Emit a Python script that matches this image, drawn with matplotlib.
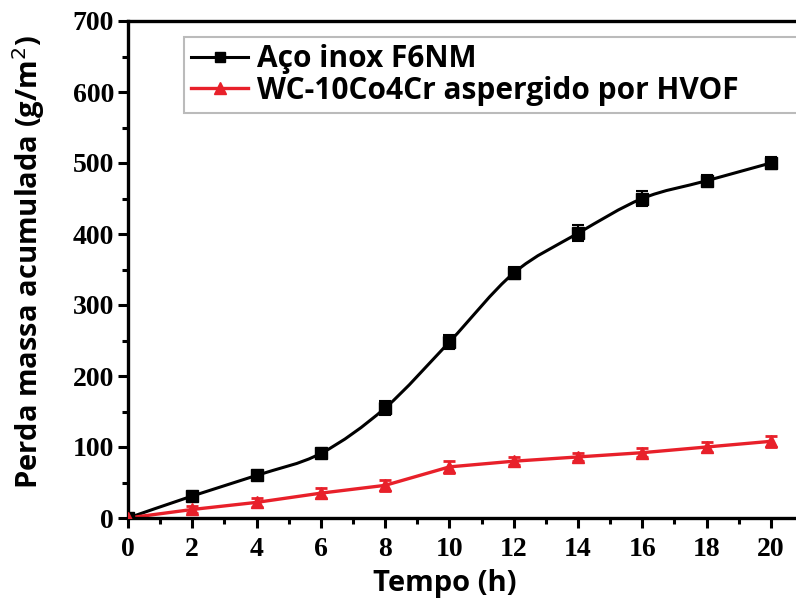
import numpy as np
import matplotlib
matplotlib.use("Agg")
import matplotlib.pyplot as plt
from matplotlib.path import Path
from matplotlib.patches import PathPatch
from matplotlib.lines import Line2D

tempo = [0, 2, 4, 6, 8, 10, 12, 14, 16, 18, 20]
aco = [0, 31, 60, 91, 155, 248, 345, 401, 450, 475, 500]
aco_err = [3, 5, 5, 6, 10, 10, 9, 11, 10, 8, 8]
wc = [0, 12, 22, 35, 46, 72, 80, 86, 92, 100, 108]
wc_err = [3, 5, 6, 7, 8, 8, 6, 6, 6, 7, 8]
labels = ["Aço inox F6NM", "WC-10Co4Cr aspergido por HVOF"]
xticks = list(range(0, 21, 2))
yticks = list(range(0, 701, 100))

fig = plt.figure(figsize=(7.96, 6.05), dpi=100)
ax = fig.add_axes([128/796, 87/605, (803-128)/796, (518-21)/605])


def smooth_path(x, y):
    x = np.asarray(x, float); y = np.asarray(y, float)
    verts = [(x[0], y[0])]
    codes = [Path.MOVETO]
    n = len(x)
    for i in range(n - 1):
        p0 = np.array([x[max(i-1, 0)], y[max(i-1, 0)]])
        p1 = np.array([x[i], y[i]])
        p2 = np.array([x[i+1], y[i+1]])
        p3 = np.array([x[min(i+2, n-1)], y[min(i+2, n-1)]])
        c1 = p1 + (p2 - p0) / 6
        c2 = p2 - (p3 - p1) / 6
        verts += [tuple(c1), tuple(c2), tuple(p2)]
        codes += [Path.CURVE4] * 3
    return Path(verts, codes)

red = "#e8202a"
ax.add_patch(PathPatch(smooth_path(tempo, aco), fill=False, edgecolor="black", lw=2.2, zorder=2))
ax.plot(tempo, wc, color=red, lw=2.4, zorder=2)
ax.errorbar(tempo, aco, yerr=aco_err, fmt="s", color="black", ms=9, capsize=4,
            elinewidth=1.5, capthick=1.5, zorder=3)
ax.errorbar(tempo, wc, yerr=wc_err, fmt="^", color=red, ms=9, capsize=4,
            elinewidth=2, capthick=2, zorder=3)

ax.set_xlim(0, 21)
ax.set_ylim(0, 700)
ax.set_xticks(xticks)
ax.set_yticks(yticks)
ax.set_xticks(np.arange(1, 21, 2), minor=True)
ax.set_yticks(np.arange(50, 700, 100), minor=True)
ax.tick_params(which="major", direction="out", length=7, width=2.2)
ax.tick_params(axis="x", which="major", pad=7)
ax.tick_params(axis="y", which="major", pad=3)
ax.tick_params(which="minor", direction="out", length=4, width=2.2)
for s in ax.spines.values():
    s.set_linewidth(2.4)
for lab in ax.get_xticklabels() + ax.get_yticklabels():
    lab.set_fontfamily("Liberation Serif")
    lab.set_fontweight("bold")
    lab.set_fontsize(20)

ax.set_xlabel("Tempo (h)", fontfamily="Open Sans", fontweight="bold", fontsize=21)
ax.set_ylabel("Perda massa acumulada (g/m$^2$)", fontfamily="Open Sans", fontweight="bold",
              fontsize=21)
ax.xaxis.set_label_coords((445 - 128) / 675, (518 - 569) / 497)
ax.yaxis.set_label_coords((47 - 128) / 675, 0.5 + 7 / 497)

handles = [Line2D([], [], color="black", marker="s", ms=7, lw=2.2),
           Line2D([], [], color=red, marker="^", ms=8, lw=2.4)]
leg = ax.legend(handles, labels, loc="upper left", bbox_to_anchor=(0.083, 0.968, 1.0, 0),
                mode="expand",
                prop={"family": "Open Sans", "weight": "bold", "size": 21.5},
                frameon=True, fancybox=False, edgecolor="#aaaaaa", handlelength=1.9,
                handletextpad=0.3, borderpad=0.25, labelspacing=0.05, borderaxespad=0)
leg.get_frame().set_linewidth(1.5)

fig.savefig("out.png", dpi=100)
